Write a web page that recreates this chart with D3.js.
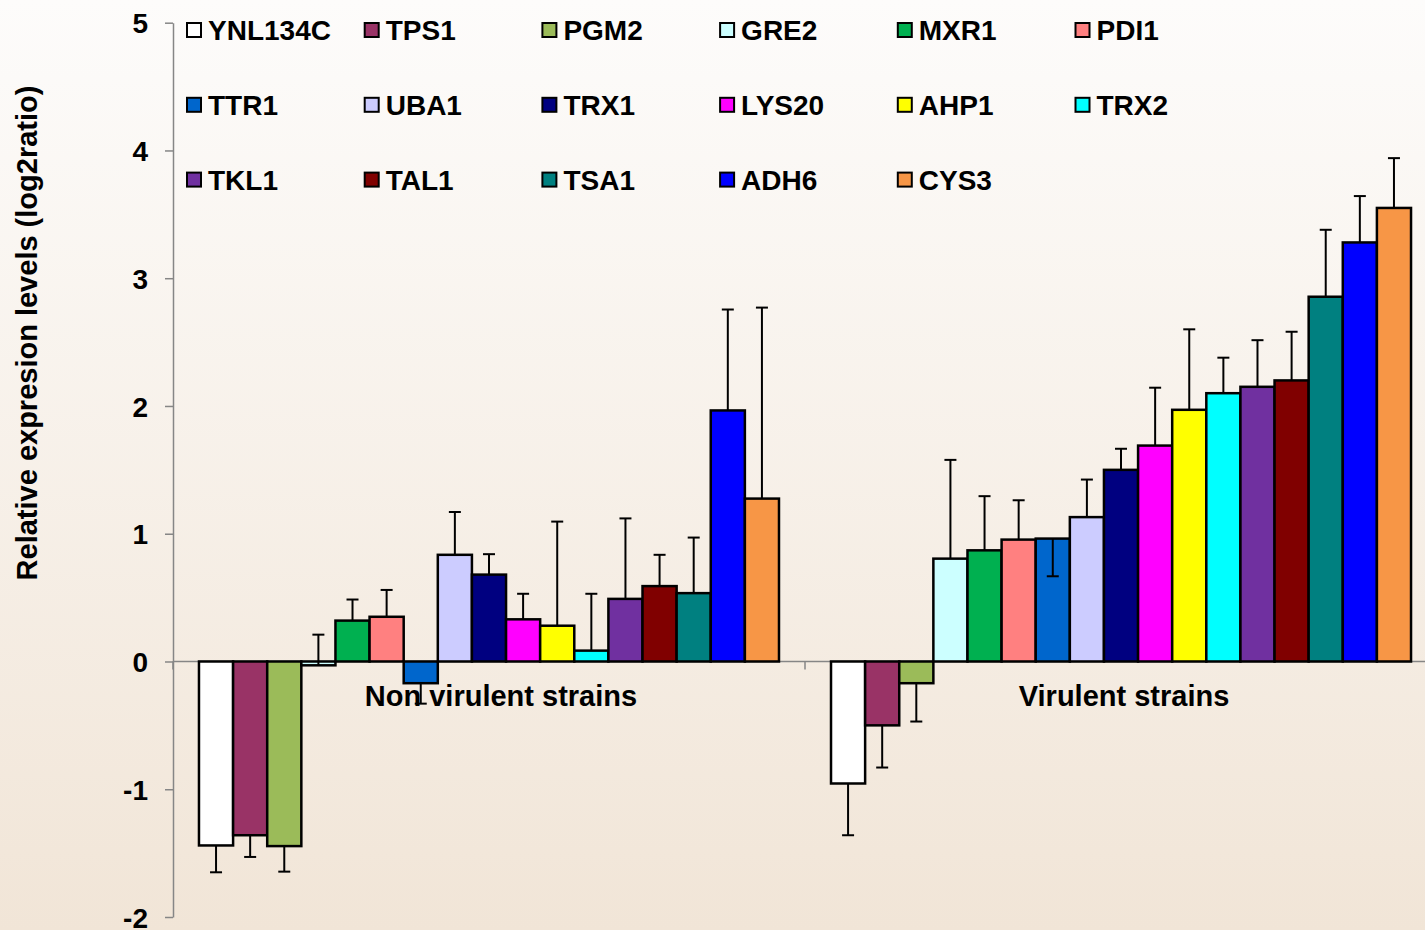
<!DOCTYPE html>
<html>
<head>
<meta charset="utf-8">
<script src="https://cdn.jsdelivr.net/npm/d3@7"></script>
<style>
  html, body { margin: 0; padding: 0; background: #fff; }
  svg text { font-family: "Liberation Sans", Arial, sans-serif; font-weight: bold; fill: #000; }
</style>
</head>
<body>
<div class="chart"></div>
<script>
// ------------------------- DATA

var strains = ["Non virulent strains", "Virulent strains"];

var genes = ["YNL134C", "TPS1", "PGM2", "GRE2", "MXR1", "PDI1",
             "TTR1", "UBA1", "TRX1", "LYS20", "AHP1", "TRX2",
             "TKL1", "TAL1", "TSA1", "ADH6", "CYS3"];

var geneColors = ["#ffffff", "#993366", "#9bbb59", "#ccffff", "#00b050", "#ff8080",
                  "#0066cc", "#ccccff", "#000080", "#ff00ff", "#ffff00", "#00ffff",
                  "#7030a0", "#800000", "#008080", "#0000ff", "#f79646"];

// log2 ratios, same order as genes
var nonVirulent = [-1.44, -1.36, -1.445, -0.03, 0.32, 0.35,
                   -0.17, 0.835, 0.68, 0.33, 0.28, 0.085,
                   0.49, 0.59, 0.535, 1.965, 1.275];
var virulent = [-0.955, -0.50, -0.17, 0.805, 0.87, 0.954,
                0.962, 1.13, 1.50, 1.69, 1.97, 2.10,
                2.15, 2.20, 2.855, 3.28, 3.55];

// error bars (signed, one direction only as in the original)
var nonVirulentErr = [-0.21, -0.17, -0.20, 0.24, 0.165, 0.21,
                      -0.16, 0.335, 0.16, 0.20, 0.815, 0.445,
                      0.63, 0.245, 0.435, 0.79, 1.495];
var virulentErr = [-0.405, -0.33, -0.30, 0.773, 0.424, 0.308,
                   -0.295, 0.294, 0.165, 0.453, 0.63, 0.278,
                   0.365, 0.381, 0.524, 0.363, 0.39];

var yTicks = [-2, -1, 0, 1, 2, 3, 4, 5];

var yTitle = "Relative expresion levels (log2ratio)";

// ------------------------- SETUP

var width = 1425;
var height = 930;
var plot = {left: 173, right: 1437, top: 22.7, bottom: 917};
var axisColor = "#868686";

var svg = d3.select(".chart").append("svg")
  .attr("width", width)
  .attr("height", height)
  .style("display", "block");

// background gradient
var grad = svg.append("defs").append("linearGradient")
  .attr("id", "bg")
  .attr("x1", 0).attr("y1", 0).attr("x2", 0).attr("y2", 1);
grad.append("stop").attr("offset", "0%").attr("stop-color", "#fdfcfb");
grad.append("stop").attr("offset", "100%").attr("stop-color", "#f1e5d7");

svg.append("rect")
  .attr("width", width)
  .attr("height", height)
  .attr("fill", "url(#bg)");

// ------------------------- SCALES

var y = d3.scaleLinear()
  .domain([-2, 5])
  .range([plot.bottom, plot.top]);

var x = d3.scaleBand()
  .domain(strains)
  .range([plot.left, plot.right])
  .paddingInner(0.0823)
  .paddingOuter(0.0411);

var xGene = d3.scaleBand()
  .domain(genes)
  .range([0, x.bandwidth()]);

var color = d3.scaleOrdinal()
  .domain(genes)
  .range(geneColors);

// rows of data per strain group
var series = [
  {strain: strains[0], values: nonVirulent, errs: nonVirulentErr},
  {strain: strains[1], values: virulent, errs: virulentErr}
];

var rows = [];
series.forEach(function(s) {
  genes.forEach(function(g, i) {
    rows.push({strain: s.strain, gene: g, value: s.values[i], err: s.errs[i]});
  });
});

// ------------------------- Y AXIS

var yAxis = d3.axisLeft(y)
  .tickValues(yTicks)
  .tickFormat(function(d) { return String(d); })   // plain hyphen like the original
  .tickSize(8)
  .tickSizeOuter(0)
  .tickPadding(17);

var yAxisG = svg.append("g")
  .attr("transform", "translate(" + plot.left + ",0)")
  .call(yAxis);

yAxisG.select(".domain").attr("stroke", axisColor).attr("stroke-width", 1.5);
yAxisG.selectAll(".tick line").attr("stroke", axisColor).attr("stroke-width", 1.5);
yAxisG.selectAll(".tick text")
  .attr("font-family", "Liberation Sans, Arial, sans-serif")
  .attr("font-weight", "bold")
  .attr("font-size", 28)
  .attr("fill", "#000")
  .attr("dy", "0.36em");

// axis title
svg.append("text")
  .attr("transform", "translate(37,333) rotate(-90)")
  .attr("text-anchor", "middle")
  .attr("font-size", 29)
  .text(yTitle);

// ------------------------- X AXIS (zero line)

svg.append("line")
  .attr("x1", plot.left)
  .attr("x2", plot.right)
  .attr("y1", y(0))
  .attr("y2", y(0))
  .attr("stroke", axisColor)
  .attr("stroke-width", 1.5);

// tick marks on category boundaries
var half = (x.step() - x.bandwidth()) / 2;
var bounds = strains.map(function(s) { return x(s) - half; });
bounds.push(x(strains[strains.length - 1]) + x.bandwidth() + half);

svg.selectAll("line.xtick")
  .data(bounds)
  .enter().append("line")
  .attr("class", "xtick")
  .attr("x1", function(d) { return d; })
  .attr("x2", function(d) { return d; })
  .attr("y1", y(0))
  .attr("y2", y(0) + 8)
  .attr("stroke", axisColor)
  .attr("stroke-width", 1.5);

// ------------------------- BARS

var barGroups = svg.selectAll("g.group")
  .data(series)
  .enter().append("g")
  .attr("class", "group")
  .attr("transform", function(d) { return "translate(" + x(d.strain) + ",0)"; });

barGroups.selectAll("rect")
  .data(function(d) {
    return rows.filter(function(r) { return r.strain == d.strain; });
  })
  .enter().append("rect")
  .attr("x", function(d) { return xGene(d.gene); })
  .attr("y", function(d) { return y(Math.max(0, d.value)); })
  .attr("width", xGene.bandwidth())
  .attr("height", function(d) { return Math.abs(y(d.value) - y(0)); })
  .attr("fill", function(d) { return color(d.gene); })
  .attr("stroke", "#000")
  .attr("stroke-width", 2.5);

// ------------------------- CATEGORY LABELS

svg.selectAll("text.cat")
  .data(strains)
  .enter().append("text")
  .attr("class", "cat")
  .attr("x", function(d, i) { return x(d) + x.bandwidth() / 2 + (i == 0 ? 12 : 3); })
  .attr("y", y(0) + 45)
  .attr("text-anchor", "middle")
  .attr("font-size", 29)
  .text(function(d) { return d; });

// ------------------------- ERROR BARS

var capW = 12;

var errG = barGroups.selectAll("g.err")
  .data(function(d) {
    return rows.filter(function(r) { return r.strain == d.strain; });
  })
  .enter().append("g")
  .attr("class", "err")
  .attr("transform", function(d) {
    return "translate(" + (xGene(d.gene) + xGene.bandwidth() / 2) + ",0)";
  });

errG.append("line")
  .attr("y1", function(d) { return y(d.value); })
  .attr("y2", function(d) { return y(d.value + d.err); })
  .attr("stroke", "#000")
  .attr("stroke-width", 2);

errG.append("line")
  .attr("x1", -capW / 2)
  .attr("x2", capW / 2)
  .attr("y1", function(d) { return y(d.value + d.err); })
  .attr("y2", function(d) { return y(d.value + d.err); })
  .attr("stroke", "#000")
  .attr("stroke-width", 2);

// ------------------------- LEGEND

var legendCols = 6;
var legend = svg.selectAll("g.legend")
  .data(genes)
  .enter().append("g")
  .attr("class", "legend")
  .attr("transform", function(d, i) {
    var col = i % legendCols;
    var row = Math.floor(i / legendCols);
    return "translate(" + (187 + col * 177.7) + "," + (30 + row * 74.8) + ")";
  });

legend.append("rect")
  .attr("x", 0)
  .attr("y", -7)
  .attr("width", 14)
  .attr("height", 14)
  .attr("fill", function(d) { return color(d); })
  .attr("stroke", "#000")
  .attr("stroke-width", 2);

legend.append("text")
  .attr("x", 21)
  .attr("y", 10)
  .attr("font-size", 28)
  .text(function(d) { return d; });
</script>
</body>
</html>
